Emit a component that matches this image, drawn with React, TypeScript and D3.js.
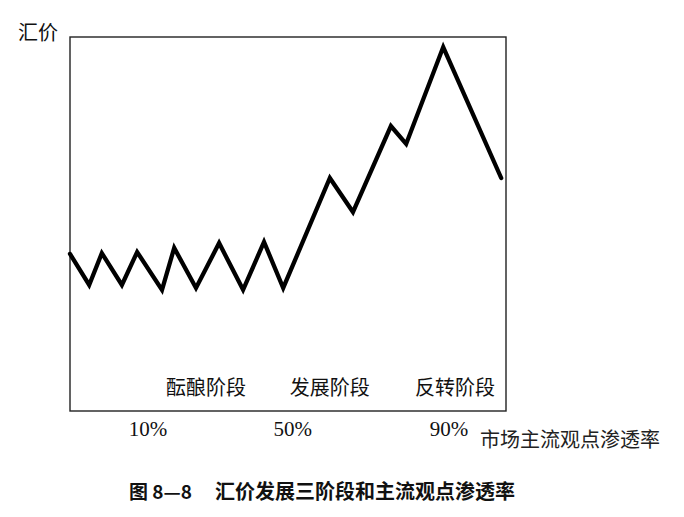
import React from 'react'
import * as d3 from 'd3'

// time position (0-100 across the box) and exchange rate level (0-100)
const timeX = [0, 4.4, 7.3, 11.9, 15.4, 21.1, 23.9, 28.9, 34.2, 39.7, 44.5, 48.9, 59.6, 64.9, 73.6, 77.1, 85.6, 98.9]
const price = [42.0, 33.7, 42.2, 33.7, 42.5, 32.4, 43.6, 32.9, 44.9, 32.4, 45.2, 32.9, 62.3, 53.2, 76.2, 71.4, 97.3, 62.3]

const stageLabels = ['酝酿阶段', '发展阶段', '反转阶段']
const stagePos = [31.2, 59.6, 88.3]

const penetrationTicks = ['10%', '50%', '90%']
const penetrationPos = [17.9, 51.1, 86.9]

const yTitle = '汇价'
const xTitle = '市场主流观点渗透率'
const captionNo = '图 8—8'
const captionText = '汇价发展三阶段和主流观点渗透率'

const W = 684
const H = 517
const box = { left: 70, top: 37, right: 506, bottom: 411 }

const CJK = '"Noto Sans CJK SC", sans-serif'
const SERIF = '"Liberation Serif", "DejaVu Serif", serif'

export default function App() {
  const x = d3.scaleLinear().domain([0, 100]).range([box.left, box.right])
  const y = d3.scaleLinear().domain([0, 100]).range([box.bottom, box.top])

  const line = d3.line<number>()
    .x((_, i) => x(timeX[i]))
    .y(d => y(d))

  return (
    <svg
      width={W}
      height={H}
      style={{ position: 'absolute', left: 0, top: 0, background: '#fff' }}
    >
      {/* frame */}
      <rect
        x={box.left}
        y={box.top}
        width={box.right - box.left}
        height={box.bottom - box.top}
        fill="none"
        stroke="#222"
        strokeWidth={1.4}
      />

      {/* price path */}
      <path
        d={line(price) || ''}
        fill="none"
        stroke="#000"
        strokeWidth={4.3}
        strokeLinejoin="miter"
        strokeLinecap="round"
      />

      {/* stage labels */}
      {stageLabels.map((s, i) => (
        <text
          key={s}
          x={x(stagePos[i])}
          y={395}
          textAnchor="middle"
          fontFamily={CJK}
          fontSize={20}
          fill="#111"
        >
          {s}
        </text>
      ))}

      {/* penetration ticks */}
      {penetrationTicks.map((t, i) => (
        <text
          key={t}
          x={x(penetrationPos[i])}
          y={436}
          textAnchor="middle"
          fontFamily={SERIF}
          fontSize={21}
          fill="#111"
        >
          {t}
        </text>
      ))}

      {/* axis titles */}
      <text x={18} y={40} fontFamily={CJK} fontSize={20} fill="#111">{yTitle}</text>
      <text x={480} y={447} fontFamily={CJK} fontSize={20} fill="#222">{xTitle}</text>

      {/* caption */}
      <text x={129} y={499} fontFamily={CJK} fontSize={19} fontWeight="bold" fill="#111">{captionNo}</text>
      <text x={215} y={499} fontFamily={CJK} fontSize={20} fontWeight="bold" fill="#111">{captionText}</text>
    </svg>
  )
}
